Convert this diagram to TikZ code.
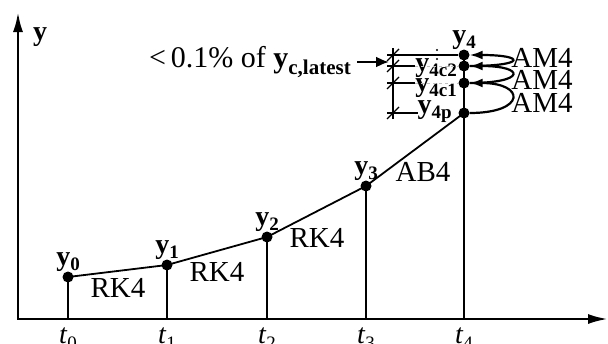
\documentclass[tikz,border=0pt]{standalone}
\usepackage{fontspec}
\setmainfont{Liberation Serif}
\usetikzlibrary{arrows.meta, positioning}
\newcommand{\yv}[1]{\textbf{y}\raisebox{-0.45ex}{\fontsize{19}{19}\selectfont\bfseries #1}}
\newcommand{\tv}[1]{\textit{t}\raisebox{-0.45ex}{\fontsize{19}{19}\selectfont #1}}

\begin{document}
\begin{tikzpicture}[
  x=1pt, y=-1pt,
  ydot/.style={circle, fill=black, inner sep=0pt, minimum size=11pt},
  lbl/.style={inner sep=0pt, font=\fontsize{28}{30}\selectfont},
  meth/.style={inner sep=0pt, font=\fontsize{29}{31}\selectfont},
  axis/.style={line width=2.6pt, {Latex[length=20pt,width=10pt]}-{Latex[length=20pt,width=10pt]}},
  stem/.style={line width=2.2pt},
  lnk/.style={line width=1.8pt},
  dim/.style={line width=1.3pt},
  amarr/.style={line width=2.2pt, -{Latex[length=13pt,width=9pt]}}
]
  \useasboundingbox (0,0) rectangle (608,343);

  % axes
  \coordinate (o)  at (18,319);
  \coordinate (xe) at (608,319);
  \coordinate (ye) at (18,12);
  \draw[axis] (ye) -- (o) -- (xe);
  \node[lbl] (ylab) at (40,37) {\textbf{y}};

  % solution points
  \node[ydot] (p0)   at (68,277)  {};
  \node[ydot] (p1)   at (167,265) {};
  \node[ydot] (p2)   at (267,237) {};
  \node[ydot] (p3)   at (366,186) {};
  \node[ydot] (p4p)  at (464,113) {};
  \node[ydot] (p4c1) at (464,83)  {};
  \node[ydot] (p4c2) at (464,66)  {};
  \node[ydot] (p4)   at (464,55)  {};

  % time marks
  \foreach \i/\x in {0/68, 1/167, 2/267, 3/366, 4/464}
    \node[lbl, anchor=north] (t\i) at (\x,328) {\tv{\i}};

  \foreach \p in {p0, p1, p2, p3, p4}
    \draw[stem] (\p.center) -- (\p.center |- o);
  \draw[lnk] (p0.center) -- (p1.center) -- (p2.center) -- (p3.center) -- (p4p.center);

  % point labels
  \node[lbl, above=0pt of p0] (l0) {\yv{0}};
  \node[lbl, above=0pt of p1] (l1) {\yv{1}};
  \node[lbl, above=0pt of p2] (l2) {\yv{2}};
  \node[lbl, above=0pt of p3] (l3) {\yv{3}};
  \node[lbl, above=0pt of p4] (l4) {\yv{4}};
  \node[lbl, anchor=base east] (lc2) at (457,71)  {\yv{4c2}};
  \node[lbl, anchor=base east] (lc1) at (457,91)  {\yv{4c1}};
  \node[lbl, anchor=base east] (lp)  at (452,113) {\yv{4p}};

  % method labels
  \node[meth] (m1) at (118,288) {RK4};
  \node[meth] (m2) at (217,272) {RK4};
  \node[meth] (m3) at (317,238) {RK4};
  \node[meth] (m4) at (423,172) {AB4};
  \node[meth] (a1) at (542,58)  {AM4};
  \node[meth] (a2) at (542,80)  {AM4};
  \node[meth] (a3) at (542,103) {AM4};

  % corrector loops
  \draw[amarr] (p4p)  .. controls +(62,0) and +(62,0) .. (p4c1);
  \draw[amarr] (p4c1) .. controls +(62,0) and +(62,0) .. (p4c2);
  \draw[amarr] (p4c2) .. controls +(62,0) and +(62,0) .. (p4);

  % tolerance marks
  \coordinate (dtop) at (393,48);
  \coordinate (dbot) at (393,119);
  \draw[dim] (dtop) -- (dbot);
  \draw[dim] ([xshift=-6pt]p4.center -| dtop) -- (p4);
  \draw[dim] ([xshift=-6pt]p4c2.center -| dtop) -- (p4c2.center -| lc2.west);
  \draw[dim] ([xshift=-6pt]p4c1.center -| dtop) -- (p4c1.center -| lc1.west);
  \draw[dim] ([xshift=-6pt]p4p.center -| dtop) -- (p4p.center -| lp.west);
  \draw[gray!50, dashed, line width=0.8pt] (p4c2.center -| lc2.west) -- (p4c2);
  \draw[gray!50, dashed, line width=0.8pt] (p4c1.center -| lc1.west) -- (p4c1);
  \foreach \q in {p4, p4c2, p4c1, p4p}
    \draw[dim] ([shift={(-6,6)}]\q.center -| dtop) -- ++(12,-12);
  \fill (437,50) circle (1.2pt) (437,59) circle (1.2pt);

  % tolerance note
  \node[inner sep=0pt, font=\fontsize{30}{32}\selectfont, anchor=east] (note) at (351,62)
    {<\,0.1\% of \textbf{y}\raisebox{-0.45ex}{\fontsize{21}{21}\selectfont\bfseries c,latest}};
  \coordinate (tip) at (389,62);
  \draw[line width=2.2pt, -{Latex[length=13pt,width=11pt]}] (note.east) ++(6,0) -- (tip);
\end{tikzpicture}
\end{document}
